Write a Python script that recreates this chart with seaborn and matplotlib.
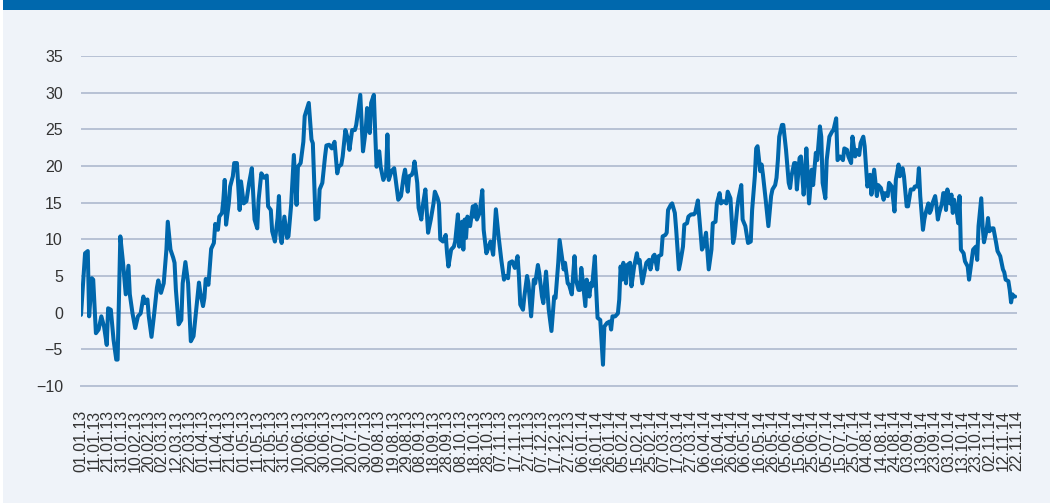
import numpy as np
import pandas as pd
import matplotlib
matplotlib.use("Agg")
import matplotlib.pyplot as plt
import matplotlib.dates as mdates
import seaborn as sns

# ---- data: day offset from 01.01.2013 and value ----
start_date = "2013-01-01"
end_date = "2014-11-22"

days_2013 = [0, 3, 5, 6, 8, 9, 11, 13, 15, 17, 19, 20, 22, 24, 26, 27, 29, 31, 33, 35, 36, 38, 40, 42, 44, 46, 47, 49, 50, 52,
             54, 56, 57, 59, 61, 63, 64, 66, 68, 69, 70, 72, 74, 75, 77, 79, 81, 83, 85, 87, 88, 90, 91, 92, 94, 96, 98, 99,
             101, 102, 104, 105, 106, 107, 109, 110, 112, 113, 115,
             117, 118, 120, 122, 124, 126, 128, 130, 131, 133, 135, 137, 138, 140, 141, 143, 145, 146, 147, 148, 150, 152,
             153, 155, 157, 159, 160, 162, 164, 165, 168, 170, 171, 173, 175, 176, 178, 180, 181, 183, 185, 187, 189, 190,
             192, 193, 195, 197, 198, 200, 202, 203, 206, 208, 210, 211, 213, 214, 216, 217, 218, 220, 221, 223, 225, 226,
             227, 229,
             231, 233, 234, 236, 238, 239, 241, 242, 244, 245, 246, 248, 249, 251, 252, 254, 256, 258, 260, 261, 263, 264,
             265, 267, 269, 270, 271, 273, 275, 276, 278, 279, 281, 282, 283, 284, 285, 287, 289, 290, 291, 292, 294, 296,
             297, 299, 300, 302, 304, 306, 308, 310, 312, 313, 315, 316, 318, 320, 322, 323, 324, 326, 327, 329, 330, 332,
             334, 335, 337, 338, 340, 341, 343, 345, 347, 349, 350, 352, 353, 354, 356, 357, 359, 360, 362, 364]
values_2013 = [-0.3, 8.1, 8.4, -0.5, 4.7, 4.5, -2.8, -2.3, -0.5, -1.9, -4.4, 0.6, 0.4, -3.7, -6.4, -6.4, 10.4, 6.8, 2.5, 6.4,
               2.5, -0.1, -2.1, -0.5, -0.1, 2.2, 1.3, 1.8, -0.5, -3.3, -0.1, 3.4, 4.4, 2.7, 4.0, 8.6, 12.4, 8.6, 7.5, 6.8,
               3.1, -1.6, -1.0, 4.0, 6.9, 4.0, -3.9, -3.2, 0.4, 4.1, 2.7, 0.9, 2.0, 4.6, 3.8, 8.7, 9.5, 12.1, 11.3, 13.1,
               13.6, 15.4, 18.1, 12.0, 14.9, 17.2, 18.6, 20.4, 20.4,
               14.0, 17.9, 14.9, 15.2, 17.7, 19.7, 12.7, 11.5, 15.4, 19.0, 18.4, 18.7, 14.5, 14.0, 11.1, 9.7, 12.9, 15.9,
               10.6, 9.5, 13.1, 10.2, 10.4, 14.7, 21.5, 14.7, 19.9, 20.4, 23.3, 26.8, 28.6, 23.6, 23.1, 12.7, 12.9, 16.8,
               17.7, 21.3, 22.8, 22.9, 22.4, 23.3, 19.0, 19.9, 20.2, 21.3, 24.9, 23.6, 22.2, 24.9, 24.9, 25.6, 29.7, 22.0,
               24.9, 27.9, 24.5, 28.6, 29.7, 24.5, 19.9, 22.0, 19.9, 18.1, 19.0, 24.3, 18.1, 19.3,
               19.7, 16.8, 15.4, 15.9, 18.6, 19.5, 16.5, 18.6, 18.8, 19.3, 20.6, 17.7, 14.3, 12.7, 14.5, 16.8, 10.9, 12.7,
               14.9, 16.5, 15.6, 14.9, 10.0, 9.7, 10.6, 8.1, 6.3, 8.6, 9.0, 9.7, 13.4, 9.0, 12.4, 8.6, 12.7, 10.2, 13.1,
               11.8, 14.5, 13.1, 14.7, 12.7, 13.6, 16.7, 11.3, 8.1, 8.6, 9.7, 7.9, 14.1, 10.4, 7.2, 4.5, 5.0, 4.7, 6.8,
               7.0, 6.1, 7.7, 5.0, 1.1, 0.4, 2.2, 5.0, 4.0, -0.5, 4.5, 4.0, 6.5, 5.4, 2.2, 1.3, 5.6, 0.4, -2.5, 2.2, 2.0,
               6.8, 9.9, 8.6, 5.9, 6.8, 4.0, 3.8, 2.5, 7.7]

days_2014 = [365, 367, 368, 369, 370, 372, 373, 375, 376, 377, 379, 380, 381, 383, 385, 386, 388, 390, 391, 392, 394, 396,
             397, 398, 399, 400, 402, 403, 405, 406, 408, 410, 411, 412, 414, 416, 417, 419, 420, 422, 423, 425, 426, 428,
             429, 431, 432, 433, 435, 436, 438, 439, 441, 442, 444, 445, 447, 448, 450, 452, 453, 455, 456, 458, 459, 461,
             463, 465, 466, 468, 469, 471, 472, 474, 476, 477, 479, 481, 482, 484, 485, 487, 488, 490, 492, 494, 495, 497,
             498, 499, 501, 502, 503, 505, 507, 509, 510, 512, 513, 514, 515, 517, 518, 520, 522, 523, 524, 526, 527, 528,
             530, 531, 533, 534, 535, 537, 539, 540, 542, 543, 545, 546, 547, 549, 550, 552, 554, 555, 557, 558, 560, 562,
             563, 565, 566, 568, 569, 571, 572, 574, 575, 577, 578, 580, 582, 583, 585, 587, 588, 590, 592, 593, 595, 596,
             598, 600, 601, 603, 604, 606, 607, 609, 610, 612, 614, 615, 617, 618, 619, 621, 622, 623, 625, 626, 627, 628,
             630, 631, 632, 633, 635, 636, 637, 638, 639, 641, 642, 643, 644, 646, 647, 648, 649, 651, 652, 654, 655, 657,
             658, 660, 661, 662, 664, 665, 666, 668, 669, 670, 672, 673, 675, 676, 678, 680, 681, 682, 684, 685, 686, 687,
             688, 689]
values_2014 = [4.5, 3.1, 3.1, 6.1, 4.5, 0.9, 4.5, 2.2, 4.0, 3.6, 7.7, 3.1, -0.7, -1.0, -7.1, -1.9, -1.4, -1.2, -2.3, -0.5,
               -0.5, -0.1, 1.8, 6.3, 4.5, 6.8, 4.0, 6.5, 6.8, 3.6, 6.3, 8.1, 6.8, 7.2, 4.0, 5.9, 6.8, 7.2, 5.9, 7.7, 7.9,
               5.9, 7.7, 7.9, 10.4, 10.6, 10.9, 14.0, 14.7, 14.9, 13.6, 11.3, 5.9, 6.8, 9.0, 12.0, 12.2, 13.1, 13.4, 13.4,
               13.6, 15.3, 13.1, 8.6, 9.0, 10.9, 5.9, 8.6, 12.2, 12.4, 14.9, 16.3, 14.9, 15.2, 14.9, 16.5, 15.6, 9.5, 10.4,
               14.3, 15.6, 17.4, 12.7, 11.8, 9.5, 9.7, 14.0, 18.6, 22.4, 22.7, 19.3, 20.2, 18.8, 15.4, 11.8, 15.9, 16.8,
               17.4, 18.4, 20.8, 24.0, 25.6, 25.6, 22.2, 17.7, 17.0, 18.6, 20.4, 20.4, 16.8, 21.1, 21.3, 16.1, 18.6, 22.4,
               14.9, 19.5, 17.4, 21.8, 20.8, 25.4, 24.0, 17.7, 15.6, 20.8, 24.0, 24.7, 24.9, 26.5, 20.8, 21.3, 20.8, 22.4,
               22.2, 21.3, 20.4, 24.0, 21.3, 22.2, 21.5, 23.1, 24.0, 22.7, 17.2, 18.8, 16.1, 19.5, 15.9, 17.4, 17.0, 15.4,
               16.3, 15.9, 17.7, 17.2, 13.8, 18.1, 20.2, 18.6, 19.7, 18.6, 14.5, 14.5, 16.8, 16.8, 17.2, 17.2, 19.7, 15.9,
               11.3, 12.7, 13.6, 14.9, 13.6, 14.0, 14.9, 15.9, 14.5, 12.7, 13.6, 14.9, 16.3, 16.3, 14.0, 16.8, 14.9, 16.1,
               13.6, 15.4, 13.6, 12.2, 15.9, 8.6, 8.1, 7.0, 6.3, 4.5, 7.2, 8.6, 9.0, 7.2, 11.8, 15.6, 11.8, 9.6, 11.3,
               12.9, 11.1, 11.5, 11.5, 9.5, 8.4, 7.7, 5.9, 5.5, 4.5, 4.3, 3.1, 1.4, 2.5, 2.2, 2.2]

y_ticks = [-10, -5, 0, 5, 10, 15, 20, 25, 30, 35]

# ---- build frame ----
days = days_2013 + days_2014
values = values_2013 + values_2014
dates = pd.Timestamp(start_date) + pd.to_timedelta(days, unit="D")
df = pd.DataFrame({"date": dates, "value": values})

BG = "#eff3f9"
LINE = "#0067ac"
GRID = "#b7c1d5"
TXT = "#333333"

sns.set_theme(style="white")
plt.rcParams["font.family"] = ["Liberation Sans", "DejaVu Sans"]

fig = plt.figure(figsize=(10.5, 5.03), dpi=100)
fig.patch.set_facecolor(BG)
# thin white left strip and dark blue top band (outside the axes)
fig.patches.append(plt.Rectangle((0, 0), 3 / 1050, 1, transform=fig.transFigure,
                                 facecolor="white", edgecolor="none", zorder=-5))
fig.patches.append(plt.Rectangle((3 / 1050, 1 - 10 / 503), 1, 10 / 503, transform=fig.transFigure,
                                 facecolor="#0068ad", edgecolor="none", zorder=-5))

ax = fig.add_axes([81 / 1050, 117 / 503, 935.5 / 1050, 330 / 503])
ax.set_zorder(5)
ax.set_facecolor("none")

sns.lineplot(data=df, x="date", y="value", ax=ax, color=LINE, linewidth=2.9,
             solid_joinstyle="round", solid_capstyle="round", zorder=3)

ax.set_ylim(-10, 35)
ax.set_yticks(y_ticks)
ax.set_yticklabels([str(v).replace("-", "\u2212") for v in y_ticks])
ax.set_xlim(pd.Timestamp(start_date), pd.Timestamp(end_date))
xt = pd.date_range(start_date, end_date, freq="10D")
ax.set_xticks(xt)
ax.set_xticklabels([d.strftime("%d.%m.%y") for d in xt], rotation=90)

ax.grid(axis="y", color=GRID, linewidth=1.4, zorder=1)
ax.grid(axis="x", visible=False)
for s in ["top", "right", "left"]:
    ax.spines[s].set_visible(False)
ax.spines["bottom"].set_color(GRID)
ax.spines["bottom"].set_linewidth(1.4)

ax.tick_params(axis="y", length=0, pad=13, labelsize=11.5, labelcolor=TXT)
ax.tick_params(axis="x", length=5, width=1.2, color=GRID, pad=12, labelsize=11.5, labelcolor=TXT)
ax.set_xlabel("")
ax.set_ylabel("")

fig.savefig("out.png", dpi=100, facecolor=fig.get_facecolor())
